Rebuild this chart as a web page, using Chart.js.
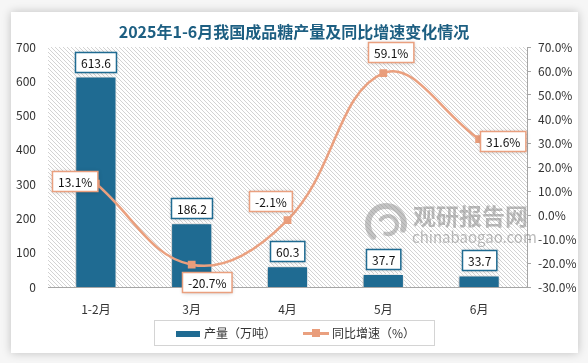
<!DOCTYPE html>
<html lang="zh-CN">
<head>
<meta charset="UTF-8">
<title>2025年1-6月我国成品糖产量及同比增速变化情况</title>
<style>
  body { margin: 0; background: #f6f6f6; font-family: "Noto Sans CJK SC", sans-serif; }
  #wrap { position: relative; width: 588px; height: 363px; overflow: hidden; }
  .card {
    position: absolute; left: 11px; top: 12px; width: 567px; height: 341px;
    background: #fff; box-shadow: 0 0 9px rgba(0,0,0,0.22);
  }
  canvas { position: absolute; left: 0; top: 0; }
  .title {
    position: absolute; left: 0; top: 21px; width: 588px; text-align: center;
    font-size: 16px; font-weight: bold; color: #1d5f82; line-height: 20px;
  }
  .legend {
    position: absolute; left: 154px; top: 320px; width: 279px; height: 24px;
    border: 1px solid #d4d4d4; font-size: 12px; color: #333;
  }
  .legend span { position: absolute; line-height: 24px; top: 0; }
  .swatch-bar { position: absolute; left: 21px; top: 10px; width: 24px; height: 6px; background: #1f6b92; }
  .swatch-line { position: absolute; left: 148px; top: 11px; width: 26px; height: 2.5px; background: #eaa07f; }
  .swatch-dot { position: absolute; left: 157px; top: 8px; width: 8px; height: 8px; background: #e99d7b; }
</style>
</head>
<body>
<div id="wrap">
  <div class="card"></div>
  <canvas id="chart" width="588" height="363"></canvas>
  <div class="title">2025年1-6月我国成品糖产量及同比增速变化情况</div>
  <div class="legend">
    <div class="swatch-bar"></div>
    <span style="left:49px">产量（万吨）</span>
    <div class="swatch-line"></div>
    <div class="swatch-dot"></div>
    <span style="left:177px">同比增速（%）</span>
  </div>
</div>

<script src="https://cdn.jsdelivr.net/npm/chart.js"></script>
<script>
  // data
  var months = ['1-2月', '3月', '4月', '5月', '6月'];
  var output = [613.6, 186.2, 60.3, 37.7, 33.7];   // 产量（万吨）
  var growth = [13.1, -20.7, -2.1, 59.1, 31.6];    // 同比增速（%）

  var FONT = '"Noto Sans CJK SC", sans-serif';
  var BAR = '#1f6b92';
  var LINE = '#eaa07f';

  // where each growth label box sits relative to its point (dx, dy of box centre)
  var growthLabelOffsets = [[-21, -3], [15, 17], [-17, -19], [7, -21], [24, 2]];

  function makeHatch() {
    var c = document.createElement('canvas');
    c.width = 4; c.height = 4;
    var g = c.getContext('2d');
    g.fillStyle = '#fff';
    g.fillRect(0, 0, 4, 4);
    g.fillStyle = '#d3d3d3';
    for (var i = 0; i < 4; i++) g.fillRect(i, i, 1, 1);
    return g.createPattern(c, 'repeat');
  }

  function drawBox(ctx, text, cx, cy, color) {
    var w = ctx.measureText(text).width + 11;
    var h = 20;
    var x = Math.round(cx - w / 2) + 0.5, y = Math.round(cy - h / 2) + 0.5;
    ctx.save();
    ctx.shadowColor = 'rgba(0,0,0,0.25)';
    ctx.shadowBlur = 4;
    ctx.fillStyle = '#fff';
    ctx.fillRect(x, y, w, h);
    ctx.restore();
    ctx.strokeStyle = color;
    ctx.lineWidth = 1.5;
    ctx.strokeRect(x, y, w, h);
    ctx.fillStyle = '#111';
    ctx.fillText(text, x + w / 2, y + h / 2 + 1);
  }

  var backdrop = {
    id: 'backdrop',
    beforeDraw: function (chart) {
      var a = chart.chartArea, ctx = chart.ctx;
      ctx.save();
      ctx.fillStyle = makeHatch();
      ctx.fillRect(a.left, a.top, a.right - a.left, a.bottom - a.top);
      ctx.restore();
    },
    beforeDatasetsDraw: function (chart) {
      // faint site watermark
      var ctx = chart.ctx;
      ctx.save();
      ctx.globalAlpha = 0.5;
      ctx.strokeStyle = '#8a8a8a';
      ctx.lineCap = 'round';
      ctx.lineWidth = 6;
      ctx.beginPath(); ctx.arc(386, 224, 18, Math.PI * 0.75, Math.PI * 2.1); ctx.stroke();
      ctx.lineWidth = 4;
      ctx.beginPath(); ctx.arc(388, 225, 9, Math.PI * 1.2, Math.PI * 2.6); ctx.stroke();
      ctx.fillStyle = '#7a7a7a';
      ctx.textBaseline = 'alphabetic';
      ctx.textAlign = 'left';
      ctx.font = 'bold 23px ' + FONT;
      ctx.fillText('观研报告网', 413, 225);
      ctx.font = '15px ' + FONT;
      ctx.fillText('chinabaogao.com', 412, 243);
      ctx.restore();
    },
    beforeDatasetDraw: function (chart, args) {
      if (args.meta.type === 'bar') {
        var ctx = chart.ctx;
        ctx.save();
        ctx.shadowColor = 'rgba(0,0,0,0.35)';
        ctx.shadowBlur = 5;
        ctx.shadowOffsetX = -1;
        ctx.shadowOffsetY = 1;
      }
    },
    afterDatasetDraw: function (chart, args) {
      if (args.meta.type === 'bar') chart.ctx.restore();
    },
    afterDatasetsDraw: function (chart) {
      var ctx = chart.ctx;
      ctx.save();
      ctx.font = '12px ' + FONT;
      ctx.textAlign = 'center';
      ctx.textBaseline = 'middle';
      chart.getDatasetMeta(0).data.forEach(function (bar, i) {
        drawBox(ctx, output[i].toFixed(1), bar.x, bar.y - 15, BAR);
      });
      chart.getDatasetMeta(1).data.forEach(function (pt, i) {
        var o = growthLabelOffsets[i];
        drawBox(ctx, growth[i].toFixed(1) + '%', pt.x + o[0], pt.y + o[1], LINE);
      });
      ctx.restore();
    }
  };

  new Chart(document.getElementById('chart'), {
    data: {
      labels: months,
      datasets: [{
        type: 'bar',
        label: '产量（万吨）',
        data: output,
        backgroundColor: BAR,
        borderColor: '#fff',
        borderWidth: 1,
        categoryPercentage: 1,
        barPercentage: 0.43,
        yAxisID: 'y',
        order: 1
      }, {
        type: 'line',
        label: '同比增速（%）',
        data: growth,
        borderColor: LINE,
        borderWidth: 2.5,
        backgroundColor: '#e99d7b',
        pointStyle: 'rect',
        pointRadius: 5.5,
        pointBorderWidth: 0,
        tension: 0.4,
        yAxisID: 'y1',
        order: 0
      }]
    },
    options: {
      responsive: false,
      animation: false,
      layout: { padding: { top: 47, left: 0, right: 0, bottom: 41 } },
      plugins: {
        legend: { display: false },
        title: { display: false },
        tooltip: { enabled: false }
      },
      scales: {
        x: {
          offset: true,
          grid: { display: false },
          border: { display: true, color: '#a6a6a6', width: 1 },
          ticks: { color: '#333', font: { size: 12, family: FONT }, padding: 7 },
          afterFit: function (s) { s.height = 35; }
        },
        y: {
          position: 'left',
          min: 0, max: 700,
          grid: { display: false, drawTicks: false },
          border: { display: false },
          ticks: { stepSize: 100, padding: 12, color: '#333', font: { size: 12, family: FONT } },
          afterFit: function (s) { s.width = 48; }
        },
        y1: {
          position: 'right',
          min: -30, max: 70,
          grid: { drawOnChartArea: false, drawTicks: true, tickLength: 4, color: '#a6a6a6' },
          border: { display: true, color: '#a6a6a6', width: 1 },
          ticks: {
            stepSize: 10, padding: 7, color: '#333', font: { size: 12, family: FONT },
            callback: function (v) { return v.toFixed(1) + '%'; }
          },
          afterFit: function (s) { s.width = 61; }
        }
      }
    },
    plugins: [backdrop]
  });
</script>
</body>
</html>
